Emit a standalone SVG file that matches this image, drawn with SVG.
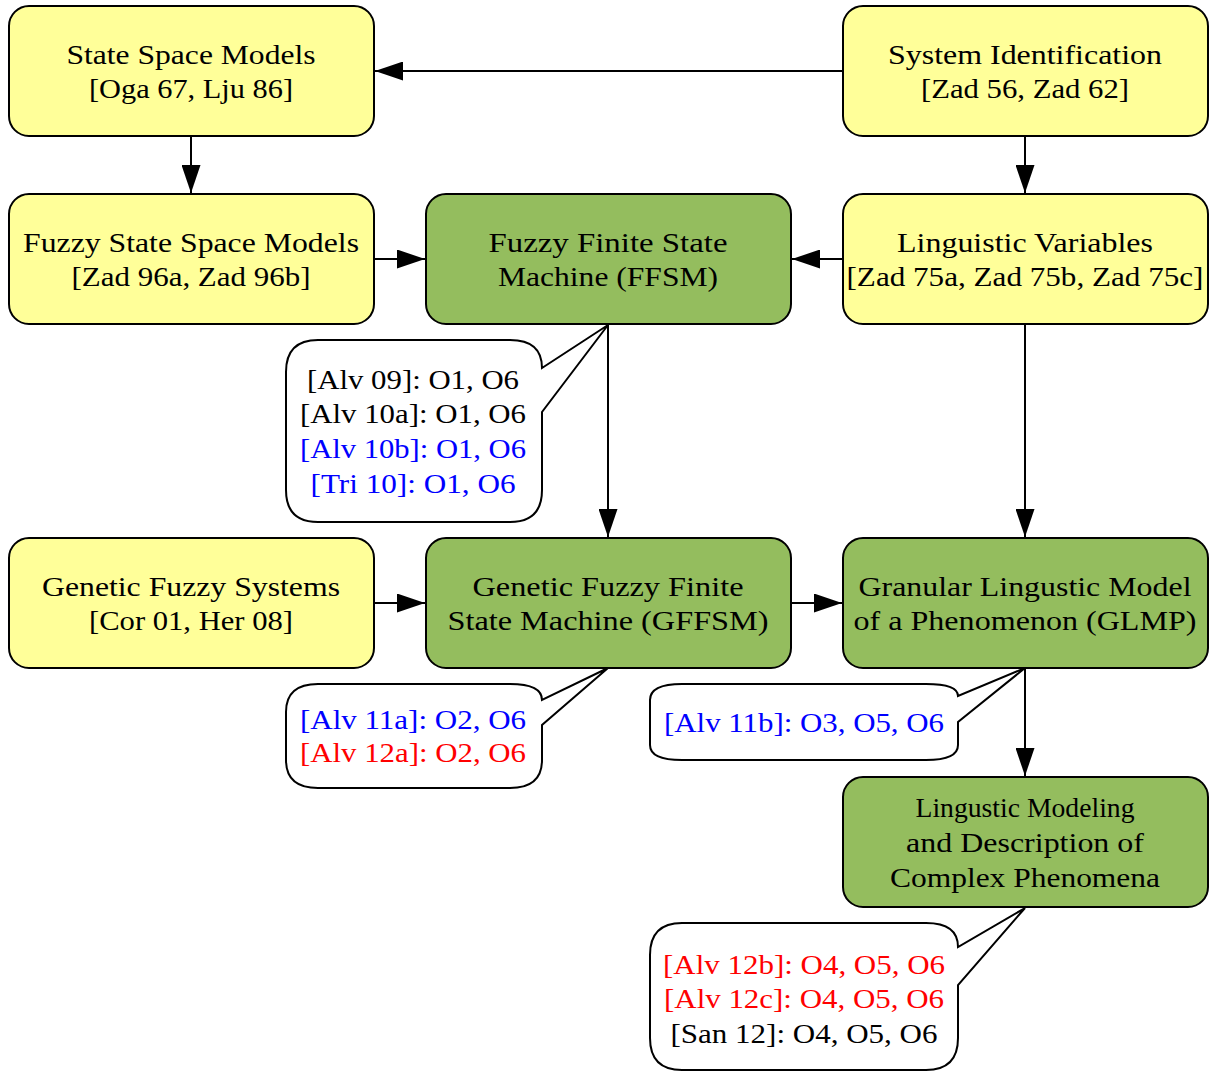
<svg xmlns="http://www.w3.org/2000/svg" width="1210" height="1072" viewBox="0 0 1210 1072" font-family="'Liberation Serif', 'Times New Roman', serif">
<style>
.y{fill:#ffff99;stroke:#000;stroke-width:2}
.g{fill:#94bd5e;stroke:#000;stroke-width:2}
.c{fill:#fff;stroke:#000;stroke-width:2;stroke-linejoin:miter}
text{font-family:'Liberation Serif','Times New Roman',serif;font-size:28px;text-anchor:middle;fill:#000}
.b{fill:#0000ff}
.r{fill:#ff0000}
.e{stroke:#000;stroke-width:2;fill:none;marker-end:url(#ah)}
</style>
<defs>
<marker id="ah" markerWidth="28" markerHeight="19" refX="28" refY="9.5" orient="auto" markerUnits="userSpaceOnUse">
<path d="M0,0 L28,9.5 L0,19 Z" fill="#000"/>
</marker>
</defs>
<g id="connectors">
<line class="e" x1="843" y1="71" x2="375" y2="71"/>
<line class="e" x1="191" y1="136" x2="191" y2="193"/>
<line class="e" x1="1025" y1="136" x2="1025" y2="193"/>
<line class="e" x1="374" y1="259" x2="425" y2="259"/>
<line class="e" x1="843" y1="259" x2="792" y2="259"/>
<line class="e" x1="608" y1="324" x2="608" y2="537"/>
<line class="e" x1="1025" y1="324" x2="1025" y2="537"/>
<line class="e" x1="374" y1="603" x2="425" y2="603"/>
<line class="e" x1="791" y1="603" x2="842" y2="603"/>
<line class="e" x1="1025" y1="668" x2="1025" y2="776"/>
</g>
<g id="n-ssm"><rect class="y" x="9" y="6" width="365" height="130" rx="20"/>
<text x="191" y="64" textLength="249" lengthAdjust="spacingAndGlyphs">State Space Models</text><text x="191" y="98" textLength="204" lengthAdjust="spacingAndGlyphs">[Oga 67, Lju 86]</text></g>
<g id="n-sysid"><rect class="y" x="843" y="6" width="365" height="130" rx="20"/>
<text x="1025" y="64" textLength="274" lengthAdjust="spacingAndGlyphs">System Identification</text><text x="1025" y="98" textLength="208" lengthAdjust="spacingAndGlyphs">[Zad 56, Zad 62]</text></g>
<g id="n-fssm"><rect class="y" x="9" y="194" width="365" height="130" rx="20"/>
<text x="191" y="252" textLength="336" lengthAdjust="spacingAndGlyphs">Fuzzy State Space Models</text><text x="191" y="286" textLength="239" lengthAdjust="spacingAndGlyphs">[Zad 96a, Zad 96b]</text></g>
<g id="n-ffsm"><rect class="g" x="426" y="194" width="365" height="130" rx="20"/>
<text x="608" y="252" textLength="239" lengthAdjust="spacingAndGlyphs">Fuzzy Finite State</text><text x="608" y="286" textLength="220" lengthAdjust="spacingAndGlyphs">Machine (FFSM)</text></g>
<g id="n-lv"><rect class="y" x="843" y="194" width="365" height="130" rx="20"/>
<text x="1025" y="252" textLength="256" lengthAdjust="spacingAndGlyphs">Linguistic Variables</text><text x="1025" y="286" textLength="357" lengthAdjust="spacingAndGlyphs">[Zad 75a, Zad 75b, Zad 75c]</text></g>
<g id="n-gfs"><rect class="y" x="9" y="538" width="365" height="130" rx="20"/>
<text x="191" y="596" textLength="298" lengthAdjust="spacingAndGlyphs">Genetic Fuzzy Systems</text><text x="191" y="630" textLength="204" lengthAdjust="spacingAndGlyphs">[Cor 01, Her 08]</text></g>
<g id="n-gffsm"><rect class="g" x="426" y="538" width="365" height="130" rx="20"/>
<text x="608" y="596" textLength="271" lengthAdjust="spacingAndGlyphs">Genetic Fuzzy Finite</text><text x="608" y="630" textLength="321" lengthAdjust="spacingAndGlyphs">State Machine (GFFSM)</text></g>
<g id="n-glmp"><rect class="g" x="843" y="538" width="365" height="130" rx="20"/>
<text x="1025" y="596" textLength="333" lengthAdjust="spacingAndGlyphs">Granular Lingustic Model</text><text x="1025" y="630" textLength="343" lengthAdjust="spacingAndGlyphs">of a Phenomenon (GLMP)</text></g>
<g id="n-lmd"><rect class="g" x="843" y="777" width="365" height="130" rx="20"/>
<text x="1025" y="817" textLength="219" lengthAdjust="spacingAndGlyphs">Lingustic Modeling</text><text x="1025" y="852" textLength="238" lengthAdjust="spacingAndGlyphs">and Description of</text><text x="1025" y="887" textLength="270" lengthAdjust="spacingAndGlyphs">Complex Phenomena</text></g>
<g id="c1">
<path class="c" d="M318,340 H510 Q542,340 542,368 L608,325 L542,412 V490 Q542,522 510,522 H318 Q286,522 286,490 V372 Q286,340 318,340 Z"/>
<text x="413" y="389" textLength="212" lengthAdjust="spacingAndGlyphs">[Alv 09]: O1, O6</text>
<text x="413" y="423" textLength="226" lengthAdjust="spacingAndGlyphs">[Alv 10a]: O1, O6</text>
<text x="413" y="458" class="b" textLength="226" lengthAdjust="spacingAndGlyphs">[Alv 10b]: O1, O6</text>
<text x="413" y="493" class="b" textLength="205" lengthAdjust="spacingAndGlyphs">[Tri 10]: O1, O6</text>
</g>
<g id="c2">
<path class="c" d="M318,684 H510 Q542,684 542,700 L608,668 L542,725 V760 Q542,788 510,788 H318 Q286,788 286,760 V712 Q286,684 318,684 Z"/>
<text x="413" y="729" class="b" textLength="226" lengthAdjust="spacingAndGlyphs">[Alv 11a]: O2, O6</text>
<text x="413" y="762" class="r" textLength="226" lengthAdjust="spacingAndGlyphs">[Alv 12a]: O2, O6</text>
</g>
<g id="c3">
<path class="c" d="M682,684 H926 Q958,684 958,696 L1025,668 L958,722 V745 Q958,760 926,760 H682 Q650,760 650,745 V700 Q650,684 682,684 Z"/>
<text x="804" y="732" class="b" textLength="280" lengthAdjust="spacingAndGlyphs">[Alv 11b]: O3, O5, O6</text>
</g>
<g id="c4">
<path class="c" d="M682,923 H926 Q958,923 958,947 L1025,908 L958,985 V1038 Q958,1070 926,1070 H682 Q650,1070 650,1038 V955 Q650,923 682,923 Z"/>
<text x="804" y="974" class="r" textLength="282" lengthAdjust="spacingAndGlyphs">[Alv 12b]: O4, O5, O6</text>
<text x="804" y="1008" class="r" textLength="280" lengthAdjust="spacingAndGlyphs">[Alv 12c]: O4, O5, O6</text>
<text x="804" y="1043" textLength="267" lengthAdjust="spacingAndGlyphs">[San 12]: O4, O5, O6</text>
</g>
</svg>
